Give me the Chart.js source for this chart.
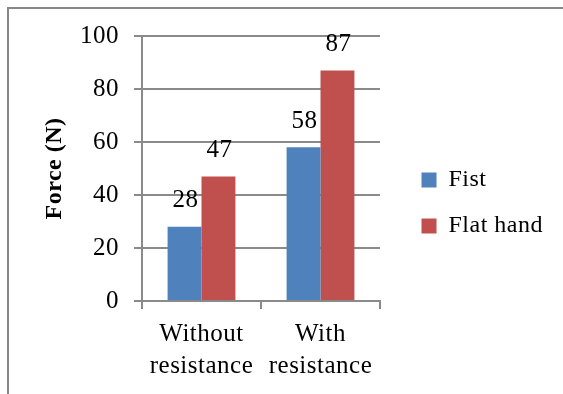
<!DOCTYPE html>
<html>
<head>
<meta charset="utf-8">
<script src="https://cdn.jsdelivr.net/npm/chart.js@4.4.1/dist/chart.umd.min.js"></script>
<style>
  html, body { margin: 0; padding: 0; background: #fff; }
  #wrap { position: relative; width: 563px; height: 394px; overflow: hidden; }
  #frame { position: absolute; left: 7px; top: 7px; width: 600px; height: 420px;
           border-top: 2px solid #888; border-left: 2px solid #888; }
  canvas { position: absolute; left: 0; top: 0; }
</style>
</head>
<body>
<div id="wrap">
  <div id="frame"></div>
  <canvas id="chart" width="563" height="394"></canvas>
</div>
<script>
const categories = [['Without', 'resistance'], ['With', 'resistance']];
const seriesNames = ['Fist', 'Flat hand'];
const fist = [28, 58];
const flatHand = [47, 87];
const yMin = 0, yMax = 100, yStep = 20;

const serif = 'Liberation Serif';
const gridColor = '#8a8a8a';
const plotRight = 380;

// Excel-like spread text
const spacing = {
  id: 'spacing',
  beforeLayout(chart) { chart.ctx.letterSpacing = '0.5px'; },
  beforeDraw(chart) { chart.ctx.letterSpacing = '0.5px'; },
  afterLayout(chart) {
    // let the category labels run below the axis box instead of being clipped
    chart.scales.x.bottom = chart.height;
  }
};

// value labels above bars
const valueLabels = {
  id: 'valueLabels',
  afterDatasetsDraw(chart) {
    const ctx = chart.ctx;
    ctx.save();
    ctx.font = '25px "' + serif + '"';
    ctx.fillStyle = '#000';
    ctx.textAlign = 'center';
    ctx.textBaseline = 'middle';
    chart.data.datasets.forEach((ds, i) => {
      chart.getDatasetMeta(i).data.forEach((bar, j) => {
        ctx.fillText(String(ds.data[j]), bar.x + 1, bar.y - 26);
      });
    });
    ctx.restore();
  }
};

new Chart(document.getElementById('chart'), {
  type: 'bar',
  data: {
    labels: categories,
    datasets: [
      { label: seriesNames[0], data: fist, backgroundColor: '#4F81BD', borderWidth: 0 },
      { label: seriesNames[1], data: flatHand, backgroundColor: '#C0504D', borderWidth: 0 }
    ]
  },
  options: {
    responsive: false,
    animation: false,
    layout: { padding: { top: 36, right: 10, bottom: 24, left: 0 } },
    datasets: { bar: { categoryPercentage: 0.57, barPercentage: 1.0 } },
    scales: {
      x: {
        grid: { display: true, drawOnChartArea: false, offset: true, tickLength: 8, color: gridColor, lineWidth: 2 },
        border: { color: gridColor, width: 2 },
        ticks: { color: '#000', padding: 9, font: { family: serif, size: 25, lineHeight: 1.28 } },
        afterFit(s) { s.height = 69; }
      },
      y: {
        min: yMin, max: yMax,
        grid: { color: gridColor, tickLength: 8, lineWidth: 2 },
        border: { color: gridColor, width: 2 },
        ticks: { stepSize: yStep, color: '#000', padding: 15, font: { family: serif, size: 25 } },
        title: { display: true, text: 'Force (N)', color: '#000', padding: { top: 40, bottom: 0 },
                 font: { family: serif, size: 24, weight: 'bold' } },
        afterFit(s) { s.width = 142; }
      },
      gap: {
        type: 'linear', position: 'right', display: true,
        grid: { display: false }, border: { display: false }, ticks: { display: false },
        afterFit(s) { s.width = Math.max(0, s.chart.width - 10 - s.chart.legend.width - plotRight); }
      }
    },
    plugins: {
      legend: {
        position: 'right',
        maxWidth: 300,
        labels: { color: '#000', boxWidth: 15, boxHeight: 15, padding: 22, font: { family: serif, size: 24 } }
      },
      tooltip: { enabled: false }
    }
  },
  plugins: [spacing, valueLabels]
});
</script>
</body>
</html>
